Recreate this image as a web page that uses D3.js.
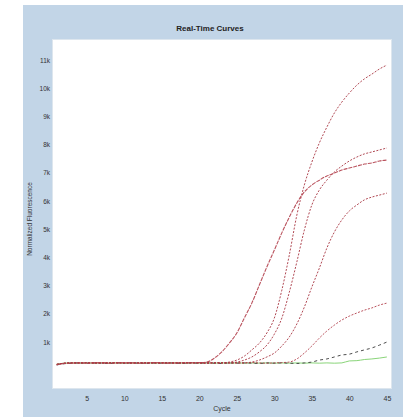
<!DOCTYPE html>
<html><head><meta charset="utf-8">
<script src="https://cdn.jsdelivr.net/npm/d3@7"></script>
<style>html,body{margin:0;padding:0;background:#fff;}svg{display:block;font-family:"Liberation Sans",Arial,sans-serif;}</style>
</head><body>
<svg id="chart" width="407" height="417"></svg>
<script>
const chartTitle = "Real-Time Curves";
const xTitle = "Cycle";
const yTitle = "Normalized Fluorescence";
const cycles = d3.range(1, 46);
const xTicks = [5, 10, 15, 20, 25, 30, 35, 40, 45];
const yTicks = [1000, 2000, 3000, 4000, 5000, 6000, 7000, 8000, 9000, 10000, 11000];
const xDomain = [0.5, 45.55];
const yDomain = [-630, 11710];

const s1 = [200,240,250,260,250,260,270,250,260,270,260,250,260,270,260,250,260,270,260,270,290,430,650,960,1320,1850,2380,3020,3660,4260,4870,5430,5930,6320,6570,6740,6890,6990,7100,7170,7240,7310,7350,7420,7450];
const s2 = [210,250,260,250,260,270,260,250,270,260,250,260,270,260,250,270,260,260,270,260,250,270,260,290,360,500,720,960,1320,1850,2840,4090,5500,6570,7380,8060,8620,9120,9510,9830,10110,10330,10500,10680,10820];
const s3 = [190,240,260,270,260,250,260,270,260,250,260,270,250,260,270,260,250,260,270,260,250,260,270,260,290,360,470,650,890,1280,1850,2770,3840,4970,5860,6390,6740,7030,7240,7420,7560,7670,7740,7810,7880];
const s4 = [200,250,260,250,270,260,250,260,270,260,250,260,270,260,250,260,270,260,250,260,270,260,250,260,270,260,290,360,470,610,860,1180,1640,2240,2950,3620,4330,4900,5330,5650,5860,6040,6140,6210,6280];
const s5 = [210,250,260,270,260,250,260,270,250,260,270,260,250,260,270,260,250,260,270,260,250,260,270,260,250,260,270,260,250,260,270,290,400,610,860,1140,1390,1600,1780,1920,2030,2130,2210,2310,2380];
const s6 = [190,230,250,260,250,260,250,240,260,250,260,250,240,260,250,260,250,240,260,250,260,250,240,260,250,260,250,240,260,250,260,250,240,260,290,360,400,470,540,570,650,720,790,890,1000];
const s7 = [220,250,260,250,260,250,260,250,260,250,260,250,260,250,260,250,260,250,260,250,260,250,260,250,260,250,260,250,260,250,260,250,260,250,260,250,260,250,260,330,340,380,400,430,470];

const series = [
  {v: s7, color: "#7ccf6a", dash: null, w: 1},
  {v: s6, color: "#3a3a3a", dash: "3,3", w: 1},
  {v: s5, color: "#b2404c", dash: "2,1.5", w: 1},
  {v: s4, color: "#a83642", dash: "2,1.5", w: 1},
  {v: s3, color: "#a83642", dash: "2,1.5", w: 1},
  {v: s2, color: "#a83642", dash: "2,1.5", w: 1},
  {v: s1, color: "#b2404c", dash: "4,1", w: 1.1}
];

const svg = d3.select("#chart");
const panel = {x: 23, y: 5, w: 380, h: 412};
const plot = {l: 53, t: 40, r: 391, b: 388};

svg.append("rect").attr("x", panel.x).attr("y", panel.y).attr("width", panel.w).attr("height", panel.h).attr("fill", "#c2d5e7");
svg.append("rect").attr("x", plot.l - 1).attr("y", plot.t - 1).attr("width", plot.r - plot.l + 2).attr("height", plot.b - plot.t + 2).attr("fill", "#dde6ee");
svg.append("rect").attr("x", plot.l).attr("y", plot.t).attr("width", plot.r - plot.l).attr("height", plot.b - plot.t).attr("fill", "#ffffff");

const x = d3.scaleLinear().domain(xDomain).range([plot.l, plot.r]);
const y = d3.scaleLinear().domain(yDomain).range([plot.b, plot.t]);

const xAxis = d3.axisBottom(x).tickValues(xTicks).tickSize(0).tickPadding(8);
const gx = svg.append("g").attr("transform", `translate(0,${plot.b})`).call(xAxis);
gx.select(".domain").remove();
gx.selectAll("text").attr("font-size", 7).attr("fill", "#333");

const yAxis = d3.axisLeft(y).tickValues(yTicks).tickFormat(d3.format("~s")).tickSize(0).tickPadding(3);
const gy = svg.append("g").attr("transform", `translate(${plot.l},0)`).call(yAxis);
gy.select(".domain").remove();
gy.selectAll("text").attr("font-size", 6.5).attr("fill", "#333");

svg.append("text").attr("x", 210).attr("y", 31).attr("text-anchor", "middle")
  .attr("font-size", 8).attr("font-weight", "bold").attr("fill", "#222").text(chartTitle);
svg.append("text").attr("x", (plot.l + plot.r) / 2).attr("y", 411).attr("text-anchor", "middle")
  .attr("font-size", 7).attr("fill", "#333").text(xTitle);
svg.append("text").attr("transform", `translate(32,${(plot.t + plot.b) / 2 + 5}) rotate(-90)`)
  .attr("text-anchor", "middle").attr("font-size", 6.5).attr("fill", "#333").text(yTitle);

const line = d3.line().x((d, i) => x(cycles[i])).y(d => y(d)).curve(d3.curveMonotoneX);
const g = svg.append("g");
series.forEach(s => {
  g.append("path").attr("d", line(s.v)).attr("fill", "none")
    .attr("stroke", s.color).attr("stroke-width", s.w)
    .attr("stroke-dasharray", s.dash).attr("opacity", 0.9);
});
</script>
</body></html>
